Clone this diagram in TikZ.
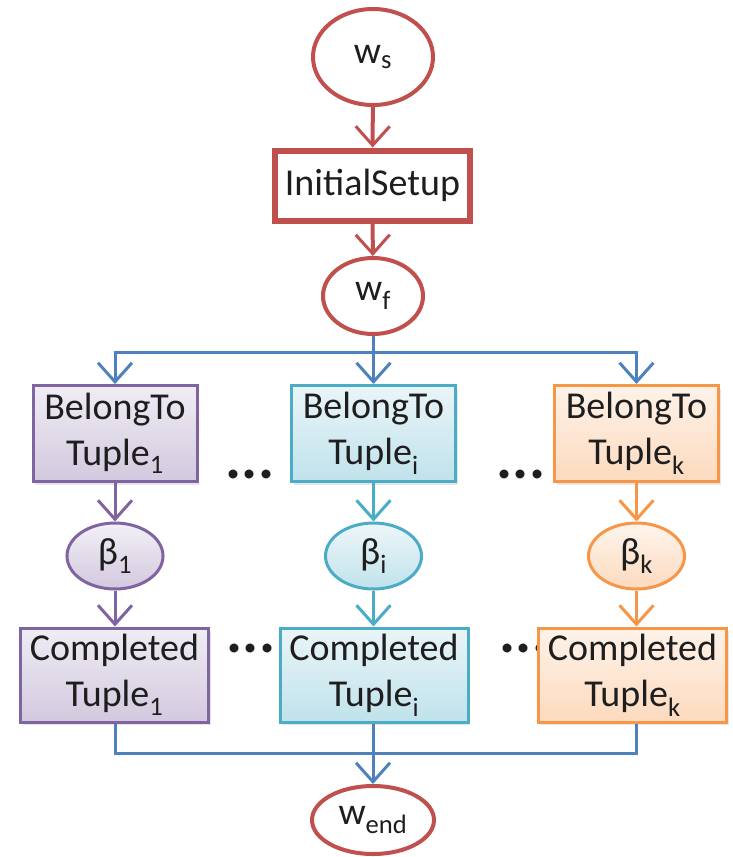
\documentclass[tikz,border=0pt]{standalone}
\usepackage{fontspec}
\setmainfont{Carlito}
\usepackage{tikz}
\usetikzlibrary{arrows.meta, shapes.geometric, shadows}
\definecolor{setupred}{RGB}{192, 80, 77}
\definecolor{flowblue}{RGB}{79, 129, 189}
\definecolor{tuplepurple}{RGB}{128, 100, 162}
\definecolor{tuplecyan}{RGB}{75, 172, 198}
\definecolor{tupleorange}{RGB}{247, 150, 70}
\definecolor{inktext}{RGB}{30, 30, 30}

\begin{document}
\begin{tikzpicture}[x=1pt, y=-1pt,
  every node/.style={font=\fontsize{38}{46}\selectfont, text=inktext},
  state/.style={ellipse, draw=setupred, line width=4pt, fill=white, inner sep=0pt},
  tuplebox/.style={rectangle, draw=#1, line width=3pt, top color=#1!12!white,
    bottom color=#1!35!white, align=center, inner sep=0pt, minimum height=96pt,
    drop shadow={shadow xshift=2pt, shadow yshift=-3pt, opacity=0.2}},
  tuplebeta/.style={ellipse, draw=#1, line width=3pt, top color=#1!10!white,
    bottom color=#1!35!white, inner sep=0pt, minimum width=96pt, minimum height=66pt},
  gapdots/.style={font=\fontsize{60}{60}\bfseries, anchor=base},
  flow/.style={line width=3pt, -{Straight Barb[length=19pt, width=34pt, line width=3pt]}}
]
  \useasboundingbox (0,0) rectangle (733,857);
  % Start and setup
  \node[state, minimum width=120pt, minimum height=96pt] (ws) at (373,57) {w\textsubscript{s}};
  \node[rectangle, draw=setupred, line width=6pt, fill=white, minimum width=195pt,
    minimum height=70pt, inner sep=0pt] (setup) at (372.5,185.5) {InitialSetup};
  \node[state, minimum width=100pt, minimum height=76pt] (wf) at (373,296) {w\textsubscript{f}};
  \node[state, minimum width=122pt, minimum height=68pt] (wend) at (373,820) {w\textsubscript{end}};
  \draw[flow, setupred, line width=4pt] (ws) -- (setup);
  \draw[flow, setupred, line width=4pt] (setup) -- (wf);
  % Dots between the columns
  \node[gapdots] (gapa) at (250,478) {...};
  \node[gapdots] (gapb) at (521,478) {...};
  \node[gapdots] (gapc) at (251,652) {...};
  \node[gapdots] (gapd) at (524,652) {...};
  % Fork and merge points
  \coordinate (fork) at (373,352);
  \coordinate (merge) at (373,753);
  % One column per tuple
  \foreach \c/\x/\xd/\col in {1/115/114.5/tuplepurple, i/373.5/374/tuplecyan, k/636.5/632.5/tupleorange} {
    \node[tuplebox=\col, minimum width=164pt] (belong\c) at (\x,433.5) {BelongTo\\Tuple\textsubscript{\c}};
    \node[tuplebeta=\col] (beta\c) at (\x,556) {β\textsubscript{\c}};
    \node[tuplebox=\col, minimum width=188pt, minimum height=94pt] (done\c) at (\xd,675) {Completed\\Tuple\textsubscript{\c}};
    \draw[flow, flowblue] (fork) -| (belong\c.north);
    \draw[flow, \col] (belong\c) -- (beta\c);
    \draw[flow, \col] (beta\c) -- (beta\c |- done\c.north);
    \draw[line width=3pt, flowblue] (beta\c |- done\c.south) |- (merge);
  }
  \draw[line width=3pt, flowblue] (wf) -- (fork);
  \draw[flow, flowblue] (merge) -- (wend);
\end{tikzpicture}
\end{document}
